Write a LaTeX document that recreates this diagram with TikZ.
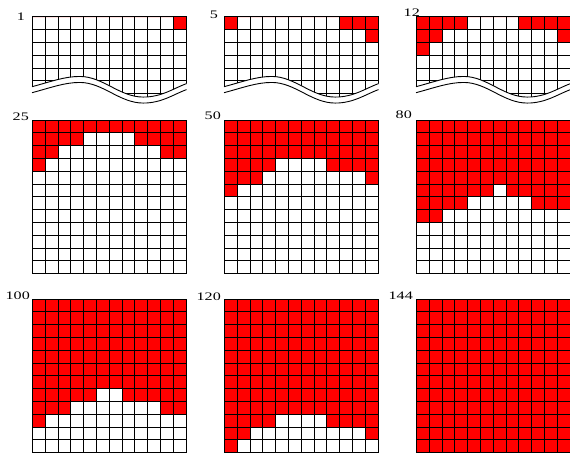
\documentclass[tikz,border=0pt]{standalone}
\usepackage{graphicx}
\usepackage{fontspec}
\setmainfont{Liberation Serif}
\definecolor{cellR}{RGB}{255,0,0}
\newcommand{\NC}{12}
\newcommand{\CW}{12.8pt}
\newcommand{\wideNum}[1]{\scalebox{1.4}[1.0]{#1}}

%% ---- one 12x12 board: #1 xshift, #2 yshift, #3 full red rows, #4 partial rows r/first/last, #5 cut off (1) ----
\newcommand{\board}[5]{%
  \begin{scope}[xshift=#1, yshift=#2]
    \fill[cellR] (0,0) rectangle (\NC,-#3);
    \foreach \r/\a/\b in {#4} {
      \fill[cellR] (\a,-\r) rectangle ({\b+1},{-\r-1});
    }
    \begin{scope}
      \ifnum#5=1
        \clip[cutline] -- (12.5,-5.23) -- (12.5,0.5) -- (-0.5,0.5) -- (-0.5,-5.45) -- cycle;
      \fi
      \foreach \i in {0,...,\NC} {
        \draw[cell] (\i,0) -- (\i,-\NC);
        \draw[cell] (0,-\i) -- (\NC,-\i);
      }
    \end{scope}
    \ifnum#5=1
      \draw[cell, cutline];
      \begin{scope}[yshift=-6pt]
        \draw[cell, cutline];
      \end{scope}
    \fi
  \end{scope}}

\begin{document}
\begin{tikzpicture}[
    x=\CW, y=\CW,
    cell/.style={draw=black, line width=0.9pt, line cap=rect},
    num/.style={font=\fontsize{11.5}{13}\selectfont, inner sep=0pt, anchor=base east},
    cutline/.style={insert path={(0,-5.45) .. controls (1.5,-5.05) and (2.5,-4.66) .. (3.7,-4.66)
      .. controls (5.5,-4.66) and (6.8,-6.27) .. (8.65,-6.27)
      .. controls (10.1,-6.27) and (11,-5.6) .. (12,-5.23)}},
  ]
  \useasboundingbox (0pt,0pt) rectangle (570pt,-456pt);

  %% ================= first row: the boards are cut off =================
  \board{32.5pt}{-16.8pt}{0}{0/11/11}{1}
  \board{224.5pt}{-16.8pt}{0}{0/0/0, 0/9/11, 1/11/11}{1}
  \board{416.5pt}{-16.8pt}{0}{0/0/3, 0/8/11, 1/0/1, 1/11/11, 2/0/0}{1}

  %% ================= second row =================
  \board{32.5pt}{-120pt}{1}{1/0/3, 1/8/11, 2/0/1, 2/10/11, 3/0/0}{0}
  \board{224.5pt}{-120pt}{3}{3/0/3, 3/8/11, 4/0/2, 4/11/11, 5/0/0}{0}
  \board{416.5pt}{-120pt}{5}{5/0/5, 5/7/11, 6/0/3, 6/9/11, 7/0/1}{0}

  %% ================= third row =================
  \board{32.5pt}{-299pt}{7}{7/0/4, 7/7/11, 8/0/2, 8/10/11, 9/0/0}{0}
  \board{224.5pt}{-299pt}{9}{9/0/3, 9/8/11, 10/0/1, 10/11/11, 11/0/0}{0}
  \board{416.5pt}{-299pt}{12}{0/0/0}{0}

  % step counts over the boards
  \foreach \t/\x/\y in {1/25/20, 5/218/18.5, 12/420/16.5, 25/29/120, 50/221/119,
                        80/412/118.5, 100/30/299, 120/221/300, 144/413/299} {
    \node[num] (n\t) at (\x pt,-\y pt) {\wideNum{\t}};
  }
\end{tikzpicture}
\end{document}
